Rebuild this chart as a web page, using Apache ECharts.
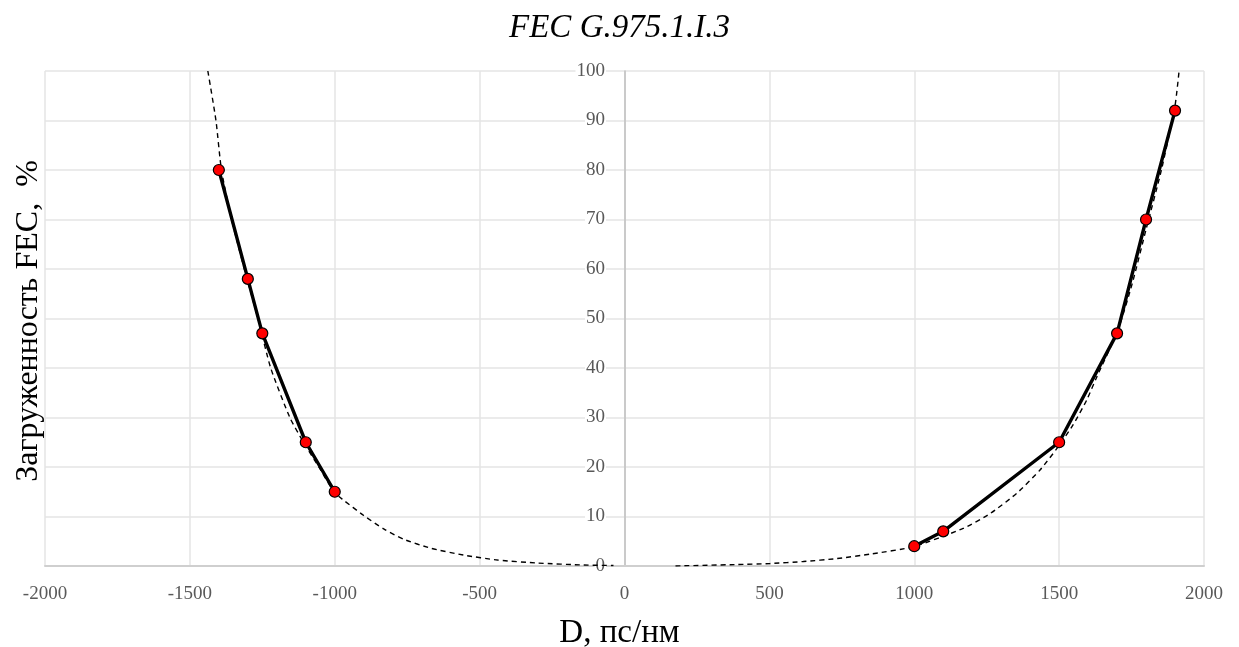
<!DOCTYPE html>
<html>
<head>
<meta charset="utf-8">
<script src="https://cdn.jsdelivr.net/npm/echarts@6/dist/echarts.min.js"></script>
<style>
html,body{margin:0;padding:0;background:#fff;}
#chart{width:1239px;height:647px;}
</style>
</head>
<body>
<div id="chart"></div>
<script>
// Measured data points (D, ps/nm ; FEC load, %)
const leftPoints = [[-1400, 80], [-1300, 58], [-1250, 47], [-1100, 25], [-1000, 15]];
const rightPoints = [[1000, 4], [1100, 7], [1500, 25], [1700, 47], [1800, 70], [1900, 92]];
// Dashed trend curves
const leftTrend = [[-1438, 100], [-1410, 90], [-1391, 80], [-1356, 70], [-1312, 60], [-1265, 50], [-1221, 40], [-1155, 30], [-1108, 25], [-1055, 20], [-1003, 15], [-974, 13.5], [-900, 10.2], [-831, 7.5], [-762, 5.4], [-669, 3.6], [-555, 2.2], [-438, 1.2], [-300, 0.6], [-141, 0.2], [-38, 0.1]];
const rightTrend = [[176, 0], [389, 0.3], [503, 0.5], [617, 0.9], [733, 1.5], [848, 2.4], [997, 3.9], [1169, 7.6], [1262, 10.6], [1354, 14.7], [1434, 19.4], [1497, 24.1], [1549, 28.6], [1595, 33.5], [1630, 38.2], [1702, 47.5], [1752, 57], [1800, 68], [1853, 80], [1900, 93], [1914, 100]];
const xTicks = [-2000, -1500, -1000, -500, 0, 500, 1000, 1500, 2000];
const yTicks = [0, 10, 20, 30, 40, 50, 60, 70, 80, 90, 100];
const titleText = 'FEC G.975.1.I.3';
const xName = 'D, пс/нм';
const yName = 'Загруженность FEC,  %';

const serif = '"Liberation Serif", "Times New Roman", serif';
const chart = echarts.init(document.getElementById('chart'));
const trendStyle = {color: '#000', width: 1.4, type: [5, 4]};
const solidStyle = {color: '#000', width: 3.4};
const markerStyle = {color: '#ff0000', borderColor: '#000', borderWidth: 1.2};

chart.setOption({
  animation: false,
  backgroundColor: '#fff',
  title: [{
    text: titleText, left: 'center', top: 7,
    textStyle: {fontFamily: serif, fontStyle: 'italic', fontWeight: 'normal', fontSize: 33, color: '#000'}
  }, {
    text: xName, left: 'center', top: 612,
    textStyle: {fontFamily: serif, fontWeight: 'normal', fontSize: 33, color: '#000'}
  }],
  graphic: [{
    type: 'text', x: 29, y: 321, rotation: Math.PI / 2,
    style: {text: yName, font: '32px ' + serif, fill: '#000', textAlign: 'center', textVerticalAlign: 'middle'}
  }],
  grid: {left: 45, right: 35, top: 71, bottom: 81, containLabel: false, outerBoundsMode: 'none'},
  xAxis: {
    type: 'value', min: xTicks[0], max: xTicks[xTicks.length - 1], interval: 500,
    axisLine: {show: true, onZero: false, lineStyle: {color: '#cfcfcf', width: 2}},
    axisTick: {show: false},
    axisLabel: {fontFamily: serif, fontSize: 19, color: '#595959', margin: 19,
      formatter: v => String(v)},
    splitLine: {show: true, lineStyle: {color: '#e5e5e5', width: 1.5}}
  },
  yAxis: {
    type: 'value', min: yTicks[0], max: yTicks[yTicks.length - 1], interval: 10,
    axisLine: {show: true, onZero: true, lineStyle: {color: '#bfbfbf', width: 1.5}},
    axisTick: {show: false},
    axisLabel: {fontFamily: serif, fontSize: 19, color: '#595959', margin: -561,
      backgroundColor: '#fff', padding: [0, 1, 0, 1], formatter: v => String(v)},
    splitLine: {show: true, lineStyle: {color: '#e5e5e5', width: 1.5}}
  },
  series: [
    {type: 'line', data: leftTrend, smooth: 0.2, symbol: 'none', lineStyle: trendStyle, z: 2},
    {type: 'line', data: rightTrend, smooth: 0.2, symbol: 'none', lineStyle: trendStyle, z: 2},
    {type: 'line', data: leftPoints, symbol: 'circle', symbolSize: 11, lineStyle: solidStyle, itemStyle: markerStyle, z: 3},
    {type: 'line', data: rightPoints, symbol: 'circle', symbolSize: 11, lineStyle: solidStyle, itemStyle: markerStyle, z: 3}
  ]
});
</script>
</body>
</html>
